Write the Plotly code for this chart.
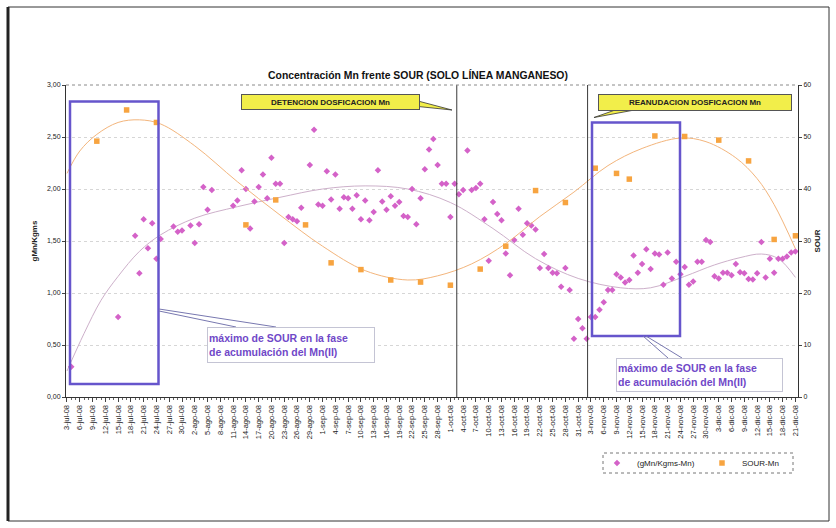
import plotly.graph_objects as go
from datetime import datetime, timedelta

FONT = "Liberation Sans, Arial, sans-serif"
PINK = "#d462c8"
ORANGE = "#f7a440"
PURPLE = "#6655cc"
YELLOW = "#f2ee4a"

# Spanish month abbreviations used on the date axis
MONTHS = {"jul": 7, "ago": 8, "sep": 9, "oct": 10, "nov": 11, "dic": 12}

tick_labels = [
    "3-jul-08", "6-jul-08", "9-jul-08", "12-jul-08", "15-jul-08", "18-jul-08", "21-jul-08",
    "24-jul-08", "27-jul-08", "30-jul-08", "2-ago-08", "5-ago-08", "8-ago-08", "11-ago-08",
    "14-ago-08", "17-ago-08", "20-ago-08", "23-ago-08", "26-ago-08", "29-ago-08", "1-sep-08",
    "4-sep-08", "7-sep-08", "10-sep-08", "13-sep-08", "16-sep-08", "19-sep-08", "22-sep-08",
    "25-sep-08", "28-sep-08", "1-oct-08", "4-oct-08", "7-oct-08", "10-oct-08", "13-oct-08",
    "16-oct-08", "19-oct-08", "22-oct-08", "25-oct-08", "28-oct-08", "31-oct-08", "3-nov-08",
    "6-nov-08", "9-nov-08", "12-nov-08", "15-nov-08", "18-nov-08", "21-nov-08", "24-nov-08",
    "27-nov-08", "30-nov-08", "3-dic-08", "6-dic-08", "9-dic-08", "12-dic-08", "15-dic-08",
    "18-dic-08", "21-dic-08",
]

# Mn concentration (gMn/Kgms-Mn): sampling days of each month and their values
mn_days_jul = [4, 15, 19, 20, 21, 22, 23, 24, 25, 28, 29, 30]
mn_vals_jul = [0.29, 0.77, 1.55, 1.19, 1.71, 1.43, 1.67, 1.33, 1.52, 1.64, 1.59, 1.60]

mn_days_ago = [1, 2, 3, 4, 5, 6, 11, 12, 13, 14, 15, 16, 17, 18, 19, 20, 21, 22, 23, 24,
               25, 26, 27, 29, 30, 31]
mn_vals_ago = [1.65, 1.48, 1.66, 2.02, 1.80, 1.99, 1.84, 1.89, 2.18, 2.00, 1.62, 1.88, 2.02,
               2.14, 1.91, 2.30, 2.05, 2.05, 1.48, 1.73, 1.71, 1.69, 1.82, 2.23, 2.57, 1.85]

mn_days_sep = list(range(1, 31))
mn_vals_sep = [1.84, 2.17, 1.90, 2.14, 1.81, 1.92, 1.91, 1.81, 1.94, 1.71, 1.89, 1.70, 1.78,
               2.18, 1.88, 1.80, 1.93, 1.84, 1.875, 1.74, 1.73, 2.00, 1.66, 1.91, 2.19, 2.38,
               2.48, 2.23, 2.05, 2.05]

mn_days_oct = list(range(1, 32))
mn_vals_oct = [1.73, 2.05, 1.95, 1.99, 2.37, 1.99, 2.01, 2.05, 1.71, 1.31, 1.875, 1.76, 1.70,
               1.38, 1.17, 1.51, 1.81, 1.56, 1.67, 1.65, 1.61, 1.24, 1.375, 1.24, 1.195, 1.19,
               1.06, 1.24, 1.03, 0.56, 0.75]

mn_days_nov = list(range(1, 31))
mn_vals_nov = [0.66, 0.56, 0.77, 0.77, 0.84, 0.91, 1.03, 1.03, 1.18, 1.15, 1.10, 1.125, 1.36,
               1.195, 1.28, 1.42, 1.23, 1.38, 1.37, 1.08, 1.39, 1.14, 1.30, 1.18, 1.25, 1.08,
               1.11, 1.30, 1.30, 1.51]

mn_days_dic = list(range(1, 22))
mn_vals_dic = [1.49, 1.16, 1.14, 1.195, 1.195, 1.17, 1.28, 1.20, 1.19, 1.135, 1.13, 1.19,
               1.49, 1.15, 1.33, 1.195, 1.33, 1.33, 1.35, 1.39, 1.40]

# SOUR measurements (right axis)
sour_dates = ["2008-07-10", "2008-07-17", "2008-07-24", "2008-08-14", "2008-08-21",
              "2008-08-28", "2008-09-03", "2008-09-10", "2008-09-17", "2008-09-24",
              "2008-10-01", "2008-10-08", "2008-10-14", "2008-10-21", "2008-10-28",
              "2008-11-04", "2008-11-09", "2008-11-12", "2008-11-18", "2008-11-25",
              "2008-12-03", "2008-12-10", "2008-12-16", "2008-12-21"]
sour_values = [49.2, 55.2, 52.8, 33.1, 37.9, 33.1, 25.8, 24.5, 22.5, 22.1, 21.5, 24.6, 29.0,
               39.7, 37.4, 44.0, 43.0, 41.9, 50.2, 50.1, 49.4, 45.4, 30.3, 31.0]

# Polynomial trend lines, sampled along the period
mn_trend_dates = ["2008-07-03", "2008-07-07", "2008-07-11", "2008-07-15", "2008-07-20",
                  "2008-07-25", "2008-08-02", "2008-08-12", "2008-08-22", "2008-09-01",
                  "2008-09-11", "2008-09-21", "2008-10-01", "2008-10-11", "2008-10-21",
                  "2008-10-31", "2008-11-10", "2008-11-17", "2008-11-25", "2008-12-02",
                  "2008-12-08", "2008-12-13", "2008-12-17", "2008-12-21"]
mn_trend_values = [0.25, 0.61, 0.93, 1.16, 1.40, 1.56, 1.72, 1.83, 1.92, 2.00, 2.03, 2.00,
                   1.87, 1.62, 1.33, 1.14, 1.05, 1.05, 1.16, 1.27, 1.34, 1.375, 1.33, 1.15]

sour_trend_dates = ["2008-07-03", "2008-07-06", "2008-07-10", "2008-07-15", "2008-07-20",
                    "2008-07-25", "2008-08-02", "2008-08-12", "2008-08-22", "2008-09-01",
                    "2008-09-11", "2008-09-21", "2008-09-28", "2008-10-06", "2008-10-14",
                    "2008-10-22", "2008-10-30", "2008-11-07", "2008-11-15", "2008-11-24",
                    "2008-11-30", "2008-12-07", "2008-12-12", "2008-12-16", "2008-12-21"]
sour_trend_values = [43.0, 47.3, 50.5, 52.8, 53.3, 52.5, 48.3, 41.4, 35.0, 29.0, 24.3, 22.5,
                     23.3, 25.6, 29.5, 34.7, 39.4, 44.5, 47.8, 49.8, 49.1, 46.0, 42.0, 37.0,
                     28.5]

# Dosing events (stop / restart of Mn dosing)
event_dates = ["2008-10-02 12:00", "2008-11-02 05:00"]


def month_dates(month, days):
    return [f"2008-{month:02d}-{d:02d}" for d in days]


mn_dates = (month_dates(7, mn_days_jul) + month_dates(8, mn_days_ago) +
            month_dates(9, mn_days_sep) + month_dates(10, mn_days_oct) +
            month_dates(11, mn_days_nov) + month_dates(12, mn_days_dic))
mn_values = mn_vals_jul + mn_vals_ago + mn_vals_sep + mn_vals_oct + mn_vals_nov + mn_vals_dic


def label_to_date(label):
    d, m, _ = label.split("-")
    return datetime(2008, MONTHS[m], int(d)).strftime("%Y-%m-%d")


tick_dates = [label_to_date(t) for t in tick_labels]

# Plot-area frame in pixels, used to place the decorations in paper units
PL, PR, PT, PB = 66, 798, 85, 397


def px(x, y):
    return (x - PL) / (PR - PL), (PB - y) / (PB - PT)


start = datetime(2008, 7, 3)
x_range = [start - timedelta(days=0.23), start + timedelta(days=171.6)]

fig = go.Figure()

fig.add_trace(go.Scatter(x=mn_trend_dates, y=mn_trend_values, mode="lines",
                         line=dict(color="#cdb0ca", width=1, shape="spline"),
                         showlegend=False, hoverinfo="skip"))
fig.add_trace(go.Scatter(x=sour_trend_dates, y=sour_trend_values, mode="lines", yaxis="y2",
                         line=dict(color="#f3b57c", width=1, shape="spline"),
                         showlegend=False, hoverinfo="skip"))
fig.add_trace(go.Scatter(x=mn_dates, y=mn_values, mode="markers", name="(gMn/Kgms-Mn)",
                         marker=dict(symbol="diamond", size=5, color=PINK),
                         legend="legend"))
fig.add_trace(go.Scatter(x=sour_dates, y=sour_values, mode="markers", name="SOUR-Mn",
                         yaxis="y2", marker=dict(symbol="square", size=5.5, color=ORANGE),
                         legend="legend2"))

shapes = []
# event separators
for d in event_dates:
    shapes.append(dict(type="line", xref="x", yref="paper", x0=d, x1=d, y0=0, y1=1,
                       line=dict(color="#3a3a3a", width=1)))
# dotted top edge of the plot area
shapes.append(dict(type="line", xref="paper", yref="paper", x0=0, x1=1, y0=1, y1=1,
                   line=dict(color="#8a8a8a", width=1, dash="dot")))


def rect(x0, y0, x1, y1, **kw):
    a = px(x0, y1)
    b = px(x1, y0)
    return dict(type="rect", xref="paper", yref="paper", x0=a[0], y0=a[1], x1=b[0], y1=b[1], **kw)


def path(points, **kw):
    pts = [px(x, y) for x, y in points]
    d = "M " + " L ".join(f"{p[0]:.5f},{p[1]:.5f}" for p in pts) + " Z"
    return dict(type="path", xref="paper", yref="paper", path=d, **kw)


def seg(x0, y0, x1, y1, **kw):
    a = px(x0, y0)
    b = px(x1, y1)
    return dict(type="line", xref="paper", yref="paper", x0=a[0], y0=a[1], x1=b[0], y1=b[1], **kw)


# highlighted SOUR maxima
shapes.append(rect(70, 101.5, 158.5, 384, line=dict(color=PURPLE, width=2.5)))
shapes.append(rect(592, 122.5, 680, 336, line=dict(color=PURPLE, width=2.5)))
# callout pointers
shapes.append(seg(159, 309, 276, 327, line=dict(color="#7878b0", width=1)))
shapes.append(seg(159, 311, 236, 327, line=dict(color="#7878b0", width=1)))
shapes.append(seg(643, 336, 668, 358, line=dict(color="#7878b0", width=1)))
shapes.append(seg(646, 336, 682, 358, line=dict(color="#7878b0", width=1)))
# yellow label tails
shapes.append(path([(418, 101), (418, 106.5), (452, 110)], fillcolor=YELLOW,
                   line=dict(color="#333333", width=0.8)))
shapes.append(path([(618, 109), (640, 109), (594, 117.5)], fillcolor=YELLOW,
                   line=dict(color="#333333", width=0.8)))
# legend frame
shapes.append(rect(603, 453, 793, 473, line=dict(color="#777777", width=1, dash="dot")))
# outer chart frame
shapes.append(rect(8, 7, 829, 521, line=dict(color="#333333", width=1)))
shapes.append(seg(8, 7, 8, 521, line=dict(color="#222222", width=3)))

annotations = []


def box(x, y, text, w, h, size, color, bg, border, align="center"):
    p = px(x, y)
    annotations.append(dict(xref="paper", yref="paper", x=p[0], y=p[1], xanchor="left",
                            yanchor="top", text=text, showarrow=False, width=w, height=h,
                            align=align, valign="middle", bgcolor=bg, bordercolor=border,
                            borderwidth=1, borderpad=1,
                            font=dict(family=FONT, size=size, color=color)))


box(240.5, 93.5, "<b>DETENCION DOSFICACION Mn</b>", 175, 12, 8, "#222222", YELLOW, "#555555")
box(598, 94, "<b>REANUDACION DOSFICACION Mn</b>", 190, 13, 8, "#222222", YELLOW, "#555555")
box(206.7, 326.7, "<b>máximo de SOUR en la fase<br>de acumulación del Mn(II)</b>", 164, 32,
    10.5, "#7048c8", "white", "#c4c4d4", align="left")
box(615.7, 357.7, "<b>máximo de SOUR en la fase<br>de acumulación del Mn(II)</b>", 163, 30,
    10.5, "#7048c8", "white", "#c4c4d4", align="left")

lg1 = px(597, 463)
lg2 = px(702, 463)

fig.update_layout(
    width=836, height=528,
    margin=dict(l=PL, r=836 - PR, t=PT, b=528 - PB),
    paper_bgcolor="white", plot_bgcolor="white",
    separators=",.",
    font=dict(family=FONT, color="#222222"),
    title=dict(text="<b>Concentración Mn frente SOUR (SOLO LÍNEA MANGANESO)</b>",
               x=0.5, xref="container", xanchor="center",
               y=1 - 75 / 528, yref="container", yanchor="middle",
               font=dict(family=FONT, size=10.4, color="#111111")),
    xaxis=dict(type="date", range=x_range, tickmode="array", tickvals=tick_dates,
               ticktext=tick_labels, tickangle=-90, tickfont=dict(size=7.5, color="#222222"),
               ticks="outside", ticklen=4, tickcolor="#444444",
               minor=dict(ticks="outside", ticklen=2, tickcolor="#666666",
                          dtick=86400000, tick0="2008-07-03", showgrid=False),
               showline=True, linecolor="#333333", linewidth=1, showgrid=False,
               zeroline=False),
    yaxis=dict(range=[0, 3], dtick=0.5, tickformat=".2f", ticks="outside", ticklen=3,
               tickcolor="#444444", tickfont=dict(size=7, color="#222222"),
               showline=True, linecolor="#333333", linewidth=1,
               showgrid=True, gridcolor="#d6d6d6", griddash="dot", zeroline=False,
               title=dict(text="<b>gMn/Kgms</b>", font=dict(size=8, color="#222222"),
                          standoff=8)),
    yaxis2=dict(range=[0, 60], dtick=10, overlaying="y", side="right", ticks="outside",
                ticklen=3, tickcolor="#444444", tickfont=dict(size=7, color="#222222"),
                showline=True, linecolor="#333333", linewidth=1, showgrid=False,
                zeroline=False,
                title=dict(text="<b>SOUR</b>", font=dict(size=8, color="#222222"),
                           standoff=4)),
    legend=dict(x=lg1[0], y=lg1[1], xanchor="left", yanchor="middle", bgcolor="rgba(0,0,0,0)",
                font=dict(size=8, color="#222222")),
    legend2=dict(x=lg2[0], y=lg2[1], xanchor="left", yanchor="middle",
                 bgcolor="rgba(0,0,0,0)", font=dict(size=8, color="#222222")),
    shapes=shapes,
    annotations=annotations,
)

fig.write_html("out.html")
